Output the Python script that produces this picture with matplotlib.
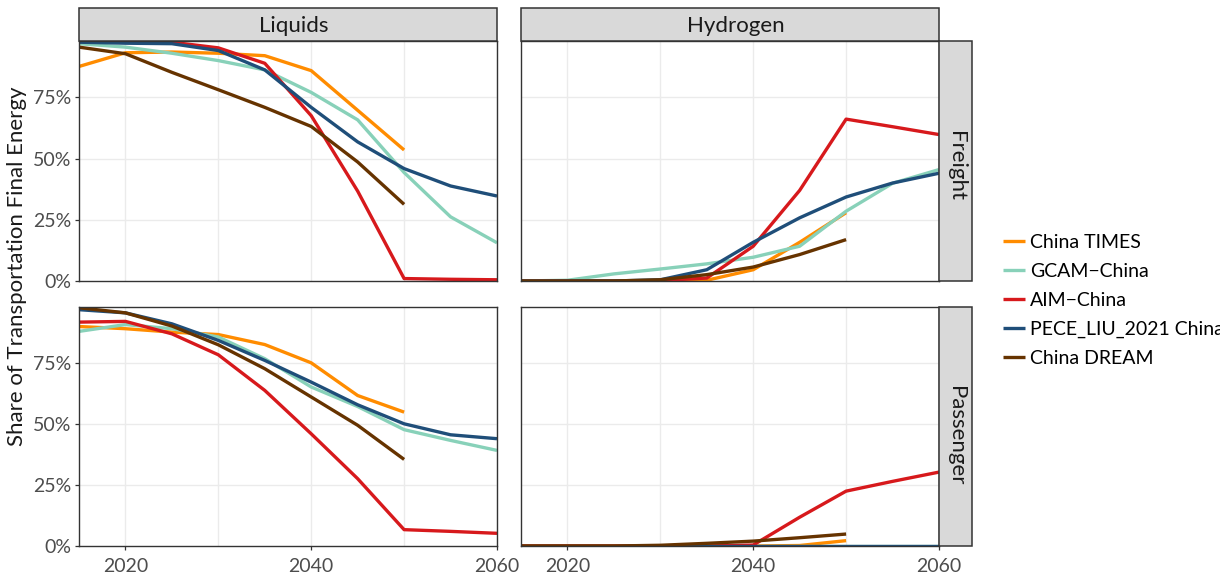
import matplotlib
matplotlib.use("Agg")
import matplotlib.pyplot as plt
from matplotlib.patches import Rectangle
from matplotlib.ticker import FixedLocator, FuncFormatter

plt.rcParams['font.family'] = ['Lato', 'DejaVu Sans']

years = [2015, 2020, 2025, 2030, 2035, 2040, 2045, 2050, 2055, 2060]

models = ["China TIMES", "GCAM\u2212China", "AIM\u2212China", "PECE_LIU_2021 China", "China DREAM"]
colors = ["#FF8C00", "#88D1B9", "#D7191C", "#1F4E79", "#663300"]

# Freight - Liquids
fl_times = [0.876, 0.932, 0.935, 0.930, 0.920, 0.859, 0.697, 0.535]
fl_gcam = [0.969, 0.955, 0.930, 0.900, 0.862, 0.770, 0.658, 0.443, 0.262, 0.156]
fl_aim = [0.978, 0.978, 0.975, 0.952, 0.889, 0.675, 0.367, 0.010, 0.007, 0.005]
fl_pece = [0.975, 0.971, 0.969, 0.941, 0.862, 0.709, 0.568, 0.459, 0.388, 0.347]
fl_dream = [0.955, 0.928, 0.852, 0.781, 0.709, 0.631, 0.486, 0.313]

# Freight - Hydrogen
fh_times = [0.0, 0.0, 0.0, 0.0, 0.003, 0.046, 0.158, 0.279]
fh_gcam = [0.0, 0.003, 0.029, 0.049, 0.070, 0.097, 0.142, 0.285, 0.399, 0.455]
fh_aim = [0.0, 0.0, 0.0, 0.002, 0.012, 0.142, 0.370, 0.661, 0.630, 0.598]
fh_pece = [0.0, 0.0, 0.0, 0.005, 0.046, 0.158, 0.258, 0.343, 0.400, 0.440]
fh_dream = [0.0, 0.0, 0.0, 0.005, 0.026, 0.057, 0.108, 0.169]

# Passenger - Liquids
pl_times = [0.900, 0.891, 0.877, 0.867, 0.826, 0.751, 0.617, 0.549]
pl_gcam = [0.880, 0.908, 0.891, 0.857, 0.768, 0.652, 0.572, 0.477, 0.433, 0.392]
pl_aim = [0.918, 0.921, 0.870, 0.784, 0.638, 0.460, 0.276, 0.067, 0.060, 0.052]
pl_pece = [0.969, 0.956, 0.911, 0.843, 0.761, 0.672, 0.579, 0.501, 0.456, 0.440]
pl_dream = [0.977, 0.956, 0.902, 0.825, 0.727, 0.611, 0.495, 0.355]

# Passenger - Hydrogen
ph_times = [0.0, 0.0, 0.0, 0.0, 0.0, 0.0, 0.002, 0.022]
ph_gcam = [0.0, 0.0, 0.0, 0.0, 0.0, 0.0, 0.0, 0.0, 0.0, 0.0]
ph_aim = [0.0, 0.0, 0.0, 0.0, 0.0, 0.004, 0.118, 0.225, 0.265, 0.303]
ph_pece = [0.0, 0.0, 0.0, 0.0, 0.0, 0.0, 0.0, 0.0, 0.0, 0.0]
ph_dream = [0.0, 0.0, 0.0, 0.003, 0.011, 0.020, 0.034, 0.049]

panels = {
    ("Freight", "Liquids"): [fl_times, fl_gcam, fl_aim, fl_pece, fl_dream],
    ("Freight", "Hydrogen"): [fh_times, fh_gcam, fh_aim, fh_pece, fh_dream],
    ("Passenger", "Liquids"): [pl_times, pl_gcam, pl_aim, pl_pece, pl_dream],
    ("Passenger", "Hydrogen"): [ph_times, ph_gcam, ph_aim, ph_pece, ph_dream],
}

rows = ["Freight", "Passenger"]
cols = ["Liquids", "Hydrogen"]
x_ticks = [2020, 2040, 2060]
x_grid = [2020, 2030, 2040, 2050, 2060]
y_ticks = [0, 0.25, 0.5, 0.75]

W, H = 1220, 578
fig = plt.figure(figsize=(W / 100, H / 100), dpi=100)

col_x = [(79, 497), (521, 939)]
row_y = [(41, 281), (307, 546)]
col_label_x = [294, 735.5]
row_label_y = [166.5, 436]

def fx(px):
    return px / W

def fy(py):
    return 1 - py / H

border = "#333333"
strip_fc = "#D9D9D9"
handles = []
for ri, r in enumerate(rows):
    for ci, c in enumerate(cols):
        x0, x1 = col_x[ci]
        y0, y1 = row_y[ri]
        ax = fig.add_axes([fx(x0), fy(y1), (x1 - x0) / W, (y1 - y0) / H])
        ax.set_xlim(2015, 2060)
        ax.set_ylim(0, 0.98)
        for g in x_grid:
            ax.axvline(g, color="#EBEBEB", lw=1.0, zorder=0)
        for g in y_ticks[1:]:
            ax.axhline(g, color="#EBEBEB", lw=1.0, zorder=0)
        for k, series in enumerate(panels[(r, c)]):
            xs = years[:len(series)]
            ln, = ax.plot(xs, series, color=colors[k], lw=2.4,
                          solid_capstyle="butt", solid_joinstyle="round",
                          label=models[k], zorder=2 + k)
            if ri == 0 and ci == 0:
                handles.append(ln)
        for s in ax.spines.values():
            s.set_color(border)
            s.set_linewidth(1.0)
            s.set_zorder(10)
        ax.xaxis.set_major_locator(FixedLocator(x_ticks))
        ax.yaxis.set_major_locator(FixedLocator(y_ticks))
        ax.yaxis.set_major_formatter(FuncFormatter(lambda v, p: f"{int(round(v * 100))}%"))
        ax.xaxis.set_major_formatter(FuncFormatter(lambda v, p: f"{int(v)}"))
        ax.tick_params(axis="y", length=3, width=0.9, color=border,
                       labelsize=14, labelcolor="#4D4D4D", pad=2.5)
        ax.tick_params(axis="x", length=3, width=0.9, color=border,
                       labelsize=14, labelcolor="#4D4D4D", pad=5.5)
        if ri == 0:
            ax.tick_params(axis="x", bottom=False, labelbottom=False)
        if ci == 1:
            ax.tick_params(axis="y", left=False, labelleft=False)
        # top strip
        if ri == 0:
            fig.patches.append(Rectangle((fx(x0), fy(41)), (x1 - x0) / W, 33 / H,
                                         transform=fig.transFigure, facecolor=strip_fc,
                                         edgecolor=border, lw=1.1, zorder=1))
            fig.text(fx(col_label_x[ci]), fy(32.3), c, ha="center", va="baseline",
                     fontsize=16, color="#1A1A1A")
        if ci == 1:
            fig.patches.append(Rectangle((fx(939), fy(y1)), 33 / W, (y1 - y0) / H,
                                         transform=fig.transFigure, facecolor=strip_fc,
                                         edgecolor=border, lw=1.1, zorder=1))
            fig.text(fx(956), fy(row_label_y[ri]), r, ha="center", va="center",
                     rotation=-90, fontsize=16, color="#1A1A1A")

fig.text(fx(17.5), fy(266), "Share of Transportation Final Energy",
         rotation=90, ha="center", va="center", fontsize=16, color="#1A1A1A")

fig.legend(handles=handles, labels=models, loc="center left",
           bbox_to_anchor=(fx(1003), fy(300.5)), frameon=False, fontsize=14,
           handlelength=1.13, handletextpad=0.27, labelspacing=0.62,
           borderpad=0, borderaxespad=0)

fig.savefig("out.png", dpi=100)
